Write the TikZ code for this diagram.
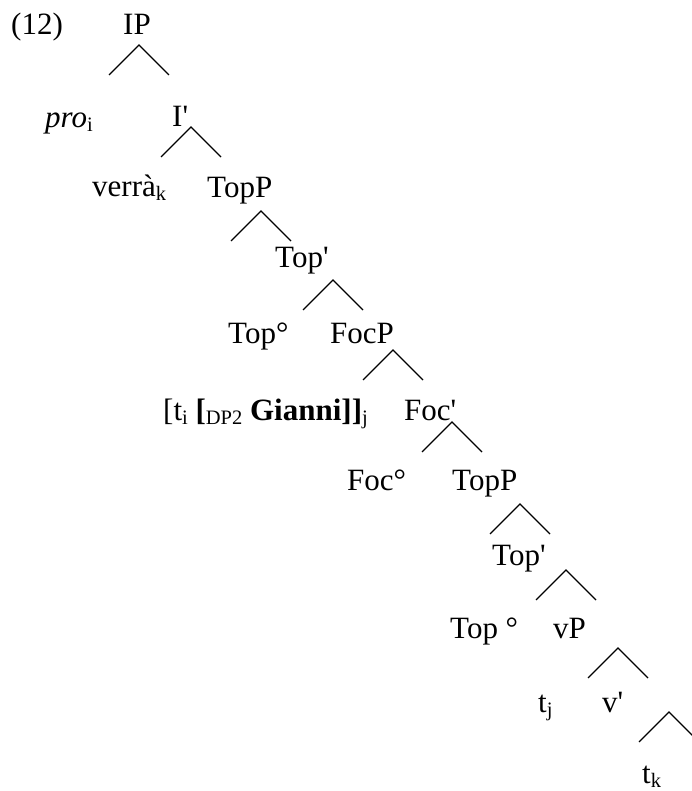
\documentclass[tikz,border=0pt]{standalone}
\usepackage{fontspec}
\setmainfont{Liberation Serif}[Ligatures=TeXOff]
\newcommand\lsub[1]{\raisebox{-4pt}{\fontsize{20.5}{21}\selectfont #1}}
\begin{document}
\begin{tikzpicture}[x=1pt,y=-1pt,
  lbl/.style={anchor=base west, inner sep=0pt, font=\fontsize{31}{37}\selectfont},
  wedge/.style={line width=1.3pt, line join=miter}]
\clip (0,0) rectangle (692,791);
\useasboundingbox (0,0) rectangle (692,791);

\node[lbl] (ex) at (11,35) {(12)};
\node[lbl] (ip) at (123,35) {IP};
\node[lbl] (pro) at (45,128) {\textit{pro}\lsub{i}};
\node[lbl] (ibar) at (172,127) {I'};
\node[lbl] (verra) at (92,197) {verrà\lsub{k}};
\node[lbl] (toppa) at (207,198) {TopP};
\node[lbl] (topbara) at (275,268) {Top'};
\node[lbl] (topdega) at (228,343) {Top°};
\node[lbl] (focp) at (330,343) {FocP};
\node[lbl] (spec) at (163,420) {[t\lsub{i} \textbf{[}\lsub{DP2} \textbf{Gianni]]}\lsub{j}};
\node[lbl] (focbar) at (404,420) {Foc'};
\node[lbl] (focdeg) at (347,490) {Foc°};
\node[lbl] (toppb) at (452,490) {TopP};
\node[lbl] (topbarb) at (492,565) {Top'};
\node[lbl] (topdegb) at (450,638) {Top °};
\node[lbl] (vp) at (553,638) {vP};
\node[lbl] (tj) at (538,712) {t\lsub{j}};
\node[lbl] (vbar) at (602,712) {v'};
\node[lbl] (tk) at (642,783) {t\lsub{k}};

% wedges: apex, left end, right end
\foreach \n/\ax/\ay in {ip/139/45, ibar/191/127, toppa/261/211, topbara/333/280,
  focp/393/350, focbar/452/422, toppb/520/504, topbarb/566/570, vp/618/648, vbar/669/712}{
  \coordinate (\n-apex) at (\ax,\ay);
  \coordinate (\n-l) at (\ax-30,\ay+30);
  \coordinate (\n-r) at (\ax+30,\ay+30);
  \draw[wedge] (\n-l) -- (\n-apex) -- (\n-r);
}
\end{tikzpicture}
\end{document}
